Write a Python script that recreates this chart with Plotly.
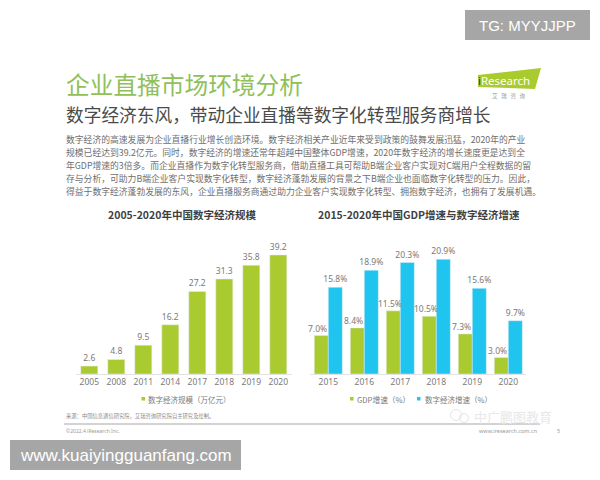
import plotly.graph_objects as go

# Chart data
scale_years = ["2005", "2008", "2011", "2014", "2017", "2018", "2019", "2020"]
scale_values = [2.6, 4.8, 9.5, 16.2, 27.2, 31.3, 35.8, 39.2]
growth_years = ["2015", "2016", "2017", "2018", "2019", "2020"]
gdp_growth = [7.0, 8.4, 11.5, 10.5, 7.3, 3.0]
digital_growth = [15.8, 18.9, 20.3, 20.9, 15.6, 9.7]

# Page text
page_title = "企业直播市场环境分析"
page_subtitle = "数字经济东风，带动企业直播等数字化转型服务商增长"
body_lines = [
    "数字经济的高速发展为企业直播行业增长创造环境。数字经济相关产业近年来受到政策的鼓舞发展迅猛，2020年的产业",
    "规模已经达到39.2亿元。同时，数字经济的增速还常年超越中国整体GDP增速，2020年数字经济的增长速度更是达到全",
    "年GDP增速的3倍多。而企业直播作为数字化转型服务商，借助直播工具可帮助B端企业客户实现对C端用户全程数据的留",
    "存与分析，可助力B端企业客户实现数字化转型，数字经济蓬勃发展的背景之下B端企业也面临数字化转型的压力。因此，",
    "得益于数字经济蓬勃发展的东风，企业直播服务商通过助力企业客户实现数字化转型、拥抱数字经济，也拥有了发展机遇。",
]

W, H = 600, 480
CJK = "Noto Sans CJK SC"
GREEN = "#a9cb2f"
BLUE = "#1fc4ef"
LABEL = "#7a7a7a"
BAR_LABEL = dict(size=8.5, color=LABEL, family="Noto Sans")
GROWTH_BAR = 14 / 36


def px(x):
    return x / W


def py(y):
    return 1 - y / H


annotations = []
shapes = []


def text(x, y, s, size, color=LABEL, anchor="left", font=CJK):
    annotations.append(dict(
        x=px(x), y=py(y), xref="paper", yref="paper", text=s, showarrow=False,
        xanchor=anchor, yanchor="middle", align=anchor,
        font=dict(size=size, color=color, family=font),
    ))


def rect(x0, y0, x1, y1, fill):
    shapes.append(dict(
        type="rect", xref="paper", yref="paper", layer="below",
        x0=px(x0), x1=px(x1), y0=py(y0), y1=py(y1),
        fillcolor=fill, line=dict(width=0),
    ))


fig = go.Figure()
fig.add_bar(
    x=scale_years, y=scale_values, xaxis="x", yaxis="y", marker_color=GREEN,
    width=17 / 27,
    text=[f"{v:.1f}" for v in scale_values], textposition="outside",
    textfont=BAR_LABEL, cliponaxis=False, constraintext="none", showlegend=False,
)
fig.add_bar(
    x=growth_years, y=gdp_growth, xaxis="x2", yaxis="y2", marker_color=GREEN,
    width=GROWTH_BAR, offset=-GROWTH_BAR, showlegend=False,
)
fig.add_bar(
    x=growth_years, y=digital_growth, xaxis="x2", yaxis="y2", marker_color=BLUE,
    width=GROWTH_BAR, offset=0,
    text=[f"{v:.1f}%" for v in digital_growth], textposition="outside",
    textfont=BAR_LABEL, cliponaxis=False, constraintext="none", showlegend=False,
)

# GDP labels sit a little left of their bars and stay above the neighbouring blue bars
for i, v in enumerate(gdp_growth):
    annotations.append(dict(
        x=i - GROWTH_BAR / 2, y=v, xref="x2", yref="y2", text=f"{v:.1f}%",
        showarrow=False, xanchor="center", yanchor="bottom", xshift=-3.5,
        font=BAR_LABEL,
    ))

axis_x = dict(
    type="category", showgrid=False, zeroline=False, showline=True,
    linecolor="#e2e2e2", linewidth=1, ticks="", automargin=False,
    tickfont=dict(size=8.5, color=LABEL, family="Noto Sans"),
)
axis_y = dict(visible=False, showgrid=False, zeroline=False, automargin=False)

# Page header
text(64, 84, page_title, 23.7, "#8fc05a")
text(64, 114, page_subtitle, 17.7, "#4a4a4a")
for i, line in enumerate(body_lines):
    text(64, 139.5 + i * 12.9, line, 8.8, "#6e6e6e")

# iResearch logo
shapes.append(dict(
    type="path", xref="paper", yref="paper", layer="below",
    path=(f"M {px(478)} {py(75)} L {px(541)} {py(68)} "
          f"L {px(535)} {py(89)} L {px(478)} {py(87)} Z"),
    fillcolor=GREEN, line=dict(width=0),
))
text(476, 81, "<span style='color:#24345f'>i</span>Research", 11.5, "#ffffff", font="Noto Sans")
text(509, 96, "艾   瑞   咨   询", 5.5, "#9a9a9a", anchor="center")

# Chart titles
text(182, 214, "<b>2005-2020年中国数字经济规模</b>", 10.5, "#3f3f3f", anchor="center")
text(419, 214, "<b>2015-2020年中国GDP增速与数字经济增速</b>", 10.5, "#3f3f3f", anchor="center")

# Legends
rect(141.5, 397, 145, 400.5, GREEN)
text(146, 399, "数字经济规模（万亿元）", 7.5, LABEL)
rect(350, 397, 353.5, 400.5, GREEN)
text(355, 399, "GDP增速（%）", 7.7, LABEL)
rect(417, 397, 420.5, 400.5, BLUE)
text(423, 399, "数字经济增速（%）", 7.5, LABEL)

# Footer
text(64, 416, "来源：中国信息通信研究院，艾瑞咨询研究院自主研究及绘制。", 5.3, "#8a8a8a")
rect(64, 423.6, 540, 424.4, "#a8a8a8")
text(64, 431, "©2022.4 iResearch Inc.", 5, "#9a9a9a", font="Noto Sans")
text(539, 431, "www.iresearch.com.cn", 5.5, "#9a9a9a", anchor="right", font="Noto Sans")
text(558, 431, "5", 5.5, "#9a9a9a", anchor="center", font="Noto Sans")

# Faint account mark at the lower right
for cx, cy, r in [(456, 415, 5.5), (464, 418, 4.5)]:
    shapes.append(dict(
        type="circle", xref="paper", yref="paper", layer="below",
        x0=px(cx - r), x1=px(cx + r), y0=py(cy - r), y1=py(cy + r),
        fillcolor="rgba(0,0,0,0)", line=dict(color="#e4e4e4", width=1),
    ))
text(472, 416, "中广鹏图教育", 13, "#e8e8e8")

# Site and account banners
rect(465, 10, 590, 40, "#a6a6a6")
text(527.5, 25, "TG: MYYJJPP", 15, "#ffffff", anchor="center", font="Liberation Sans")
rect(10, 440, 241, 470, "#a6a6a6")
text(125.5, 455, "www.kuaiyingguanfang.com", 17, "#ffffff", anchor="center", font="Liberation Sans")

fig.update_layout(
    width=W, height=H, autosize=False,
    margin=dict(l=0, r=0, t=0, b=0),
    paper_bgcolor="#ffffff", plot_bgcolor="rgba(0,0,0,0)",
    barmode="overlay",
    xaxis=dict(axis_x, domain=[px(75.8), px(291.8)], anchor="y",
               range=[-0.5, len(scale_years) - 0.5]),
    yaxis=dict(axis_y, domain=[py(374), py(240)], range=[0, 134 / 3.036], anchor="x"),
    xaxis2=dict(axis_x, domain=[px(310.3), px(526.3)], anchor="y2",
                range=[-0.5, len(growth_years) - 0.5]),
    yaxis2=dict(axis_y, domain=[py(374), py(240)], range=[0, 134 / 5.49], anchor="x2"),
    annotations=annotations, shapes=shapes,
)

fig.write_html("out.html", config={"displayModeBar": False})
